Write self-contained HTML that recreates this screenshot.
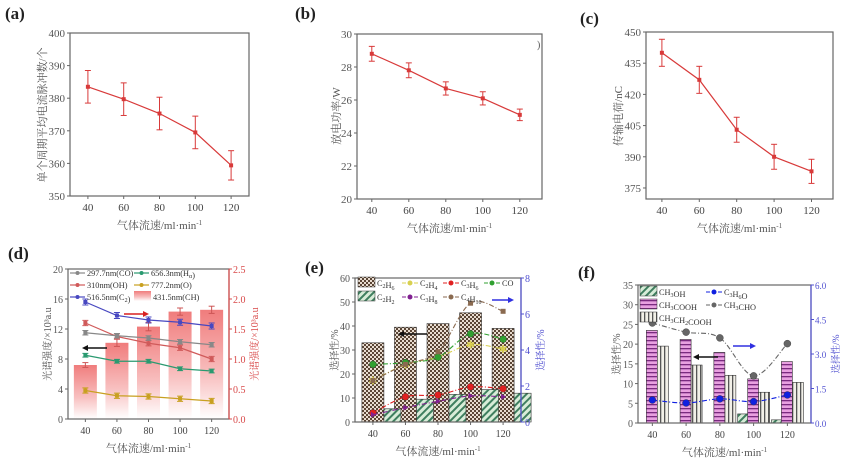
<!DOCTYPE html>
<html><head><meta charset="utf-8">
<style>
html,body{margin:0;padding:0;background:#fff;}
svg{display:block;font-family:"Liberation Serif","Noto Serif CJK SC",serif;}
</style></head>
<body>
<svg id="fig" width="842" height="459" viewBox="0 0 842 459" xmlns="http://www.w3.org/2000/svg">
<defs>
 <pattern id="checker" width="4" height="4" patternUnits="userSpaceOnUse"><rect width="4" height="4" fill="#e8dcd0"/><rect width="2" height="2" fill="#5a4535"/><rect x="2" y="2" width="2" height="2" fill="#5a4535"/></pattern>
 <pattern id="hatchG" width="5" height="5" patternUnits="userSpaceOnUse" patternTransform="rotate(45)"><rect width="5" height="5" fill="#d8ecd8"/><rect width="2" height="5" fill="#3f7f5f"/></pattern>
 <pattern id="stripeP" width="4" height="4" patternUnits="userSpaceOnUse"><rect width="4" height="4" fill="#e8a0e0"/><rect width="4" height="1.3" fill="#7a2a80"/></pattern>
 <pattern id="stripeV" width="4" height="4" patternUnits="userSpaceOnUse"><rect width="4" height="4" fill="#f2f0e8"/><rect width="1.3" height="4" fill="#555"/></pattern>
 <linearGradient id="pinkG" x1="0" y1="0" x2="0" y2="1"><stop offset="0" stop-color="#f07c7c"/><stop offset="0.6" stop-color="#f8c0c0"/><stop offset="1" stop-color="#ffffff"/></linearGradient>
</defs>
</svg>
<script>
const xCats=[40,60,80,100,120];
const aVals=[383.5,379.7,375.3,369.5,359.4];
const aErr=[5,5,5,5,4.5];
const bVals=[28.8,27.8,26.7,26.1,25.1];
const bErr=[0.45,0.45,0.4,0.4,0.35];
const cVals=[440,427,403,390,383];
const cErr=[6.5,6.5,6,6,5.8];
const dCH=[0.9,1.27,1.54,1.79,1.82];
const dCHerr=[0.04,0.06,0.07,0.06,0.06];
const dC2=[15.6,13.8,13.2,12.9,12.4];
const dOH=[12.8,11.0,10.1,9.5,8.0];
const dCO=[11.5,11.1,10.8,10.3,9.9];
const dHa=[8.5,7.7,7.7,6.7,6.4];
const dO=[3.8,3.1,3.0,2.7,2.4];
const eC2H6=[33,39.5,41,45.5,39];
const eC2H2=[5.5,9.5,11.5,13.5,12];
const eC2H4=[2.3,3.2,3.6,4.3,4.05];
const eC3H6=[0.5,1.4,1.5,1.95,1.85];
const eCO=[3.2,3.3,3.6,4.9,4.6];
const eC3H8=[0.4,0.8,1.15,1.45,1.4];
const eC4H10=[2.3,3.2,3.9,6.6,6.15];
const fCH3OH=[0,0,0,2.3,0.8];
const fCH3COOH=[23.5,21.2,17.9,11.2,15.6];
const fPropAcid=[19.5,14.7,12.1,7.8,10.3];
const fC3H6O=[1.0,0.87,1.05,0.93,1.22];
const fCH3CHO=[4.35,3.95,3.7,2.05,3.45];
const aTicks=[350,360,370,380,390,400];
const bTicks=[20,22,24,26,28,30];
const cTicks=[375,390,405,420,435,450];
const dTicks=[0,4,8,12,16,20];
const dTicks2=[0,0.5,1.0,1.5,2.0,2.5];
const eTicks=[0,10,20,30,40,50,60];
const eTicks2=[0,2,4,6,8];
const fTicks=[0,5,10,15,20,25,30,35];
const fTicks2=[0,1.5,3.0,4.5,6.0];

const NS="http://www.w3.org/2000/svg";
const svg=document.getElementById('fig');
function el(tag,attrs,parent,text){const e=document.createElementNS(NS,tag);for(const k in attrs)e.setAttribute(k,attrs[k]);if(text!==undefined)e.textContent=text;(parent||svg).appendChild(e);return e;}
function sx(p,v){return p.l+(v-p.x0)/(p.x1-p.x0)*(p.r-p.l);}
function sy(p,v){return p.b-(v-p.y0)/(p.y1-p.y0)*(p.b-p.t);}
function sy2(p,v){return p.b-(v-p.z0)/(p.z1-p.z0)*(p.b-p.t);}
function fmt(v,d){return d?v.toFixed(d):String(v);}
function frame(p,name,ticks,dec,ticks2,dec2,col2){
 const g=el('g',{});
 
 
 const fr=el('rect',{x:p.l,y:p.t,width:p.r-p.l,height:p.b-p.t,fill:'none',stroke:'#666','stroke-width':1.2},g);
 
 
 ticks.forEach(v=>{const y=sy(p,v);el('line',{x1:p.l-3,x2:p.l,y1:y,y2:y,stroke:'#666'},g);
  const t=el('text',{x:p.l-5,y:y+4,'text-anchor':'end','font-size':p.fs||11,fill:'#555'},g,fmt(v,dec));
  
  });
 if(ticks2){ticks2.forEach(v=>{const y=sy2(p,v);el('line',{x1:p.r,x2:p.r+3,y1:y,y2:y,stroke:col2},g);
  const t=el('text',{x:p.r+4,y:y+4,'text-anchor':'start','font-size':p.fs2||p.fs||11,fill:col2},g,fmt(v,dec2));
  
  });
  el('line',{x1:p.r,x2:p.r,y1:p.t,y2:p.b,stroke:col2,'stroke-width':1.2},g);}
 xCats.forEach(v=>{const x=sx(p,v);el('line',{x1:x,x2:x,y1:p.b,y2:p.b+3,stroke:'#666'},g);
  const t=el('text',{x:x,y:p.b+15,'text-anchor':'middle','font-size':p.fs||11,fill:'#444'},g,String(v));
  
  });
 const xt=el('text',{x:(p.l+p.r)/2,y:p.b+33,'text-anchor':'middle','font-size':11,fill:'#555'},g,'气体流速/ml·min');
 el('tspan',{dy:-4,'font-size':7},xt,'-1');
 
 
 return g;
}
function ytitle(x,y,txt,col,name,fs){const t=el('text',{x:x,y:y,'text-anchor':'middle','font-size':fs||11,fill:col,transform:`rotate(-90 ${x} ${y})`},svg,txt);
 
 return t;}
function plabel(x,y,txt){const t=el('text',{x:x,y:y,'font-size':17,'font-weight':'bold',fill:'#222'},svg,txt);
 
 }
function errLine(p,vals,errs,name,col){
 const g=el('g',{});
 
 
 const pts=xCats.map((c,i)=>[sx(p,c),sy(p,vals[i])]);
 el('polyline',{points:pts.map(q=>q.join(',')).join(' '),fill:'none',stroke:col,'stroke-width':1.2},g);
 xCats.forEach((c,i)=>{const x=sx(p,c),y1=sy(p,vals[i]+errs[i]),y2=sy(p,vals[i]-errs[i]);
  el('line',{x1:x,x2:x,y1:y1,y2:y2,stroke:col},g);
  el('line',{x1:x-3,x2:x+3,y1:y1,y2:y1,stroke:col},g);
  el('line',{x1:x-3,x2:x+3,y1:y2,y2:y2,stroke:col},g);
  const m=el('rect',{x:x-2,y:sy(p,vals[i])-2,width:4,height:4,fill:col},g);
  
  });
}
function smoothPath(pts){let d=`M${pts[0][0]},${pts[0][1]}`;
 for(let i=0;i<pts.length-1;i++){const p0=pts[i-1]||pts[i],p1=pts[i],p2=pts[i+1],p3=pts[i+2]||p2;
  d+=` C${p1[0]+(p2[0]-p0[0])/6},${p1[1]+(p2[1]-p0[1])/6} ${p2[0]-(p3[0]-p1[0])/6},${p2[1]-(p3[1]-p1[1])/6} ${p2[0]},${p2[1]}`;}
 return d;}
function curve(p,vals,col,name,marker,right,smooth){
 const g=el('g',{});
 
 
 const pts=xCats.map((c,i)=>[sx(p,c),right?sy2(p,vals[i]):sy(p,vals[i])]);
 const d=smooth?smoothPath(pts):'M'+pts.map(q=>q.join(',')).join(' L');
 el('path',{d:d,fill:'none',stroke:col,'stroke-width':1.1,'stroke-dasharray':smooth?'5,2,1,2':''},g);
 pts.forEach(q=>{let m;
  if(marker==='tri')m=el('path',{d:`M${q[0]},${q[1]-3} L${q[0]+3},${q[1]+2} L${q[0]-3},${q[1]+2}Z`,fill:col},g);
  else if(marker==='rtri')m=el('path',{d:`M${q[0]+3},${q[1]} L${q[0]-2},${q[1]-3} L${q[0]-2},${q[1]+3}Z`,fill:col},g);
  else if(marker==='sq')m=el('rect',{x:q[0]-2.5,y:q[1]-2.5,width:5,height:5,fill:col},g);
  else if(marker==='star')m=el('text',{x:q[0],y:q[1]+4,'text-anchor':'middle','font-size':11,fill:col},g,'✱');
  else m=el('circle',{cx:q[0],cy:q[1],r:marker==='big'?3.5:2.8,fill:col,stroke:'#333','stroke-width':0.4},g);
  
  });
}
function bars(p,vals,x0off,w,fill,name,right,errs){
 const g=el('g',{});
 
 
 xCats.forEach((c,i)=>{const x=sx(p,c)+x0off;const y=right?sy2(p,vals[i]):sy(p,vals[i]);
  if(vals[i]<=0)return;
  const b=el('rect',{x:x,y:y,width:w,height:p.b-y,fill:fill,stroke:right===2?'none':'#333','stroke-width':0.6},g);
  
  
  if(errs){const cx=x+w/2,y1=sy2(p,vals[i]+errs[i]),y2=sy2(p,vals[i]-errs[i]);
   el('line',{x1:cx,x2:cx,y1:y1,y2:y2,stroke:'#c55'},g);el('line',{x1:cx-3,x2:cx+3,y1:y1,y2:y1,stroke:'#c55'},g);el('line',{x1:cx-3,x2:cx+3,y1:y2,y2:y2,stroke:'#c55'},g);}
 });}
function arrow(x1,x2,y,col,name){const g=el('g',{});
 
 
 el('line',{x1:x1,x2:x2,y1:y,y2:y,stroke:col,'stroke-width':1.5},g);
 const dir=x2>x1?1:-1;
 el('path',{d:`M${x2+dir*4},${y} L${x2-dir*2},${y-3} L${x2-dir*2},${y+3}Z`,fill:col},g);}
function legendItem(x,y,type,col,label){const g=el('g',{});
 
 
 let off=19;
 if(type==='line'){el('line',{x1:x,x2:x+15,y1:y-3,y2:y-3,stroke:col,'stroke-width':1.2},g);el('circle',{cx:x+7.5,cy:y-3,r:2,fill:col},g);off=17;}
 else if(type==='dash'){el('line',{x1:x,x2:x+16,y1:y-3,y2:y-3,stroke:col,'stroke-width':1.1,'stroke-dasharray':'4,2'},g);el('circle',{cx:x+8,cy:y-3,r:2.5,fill:col},g);off=18;}
 else el('rect',{x:x,y:y-9,width:17,height:10,fill:type,stroke:type==='url(#pinkG)'?'none':'#333','stroke-width':0.5},g);
 const t=el('text',{x:x+off,y:y,'font-size':8.3,fill:'#333'},g);
 label.forEach(s=>{if(s[1]){el('tspan',{dy:2,'font-size':6},t,s[0]);el('tspan',{dy:-2},t,'');}else el('tspan',{},t,s[0]);});
}

// (a)
plabel(5,19,'(a)');
const pa={l:70,r:249,t:33,b:196,x0:30,x1:130,y0:350,y1:400};
frame(pa,'chart-a',aTicks,0);
ytitle(46,115,'单个周期平均电流脉冲数/个','#555','y-axis-title-a',11);
errLine(pa,aVals,aErr,'series-a','#d83a3a');
// (b)
plabel(295,19,'(b)');
const pb={l:357,r:542,t:34,b:199,x0:32,x1:132,y0:20,y1:30};
frame(pb,'chart-b',bTicks,0);
ytitle(340,116,'放电功率/W','#555','y-axis-title-b',11);
errLine(pb,bVals,bErr,'series-b','#d83a3a');
el('text',{x:537,y:48,'font-size':10,fill:'#555'},svg,')');
// (c)
plabel(580,24,'(c)');
const pc={l:646,r:833,t:32,b:199,x0:31.5,x1:131.5,y0:369.7,y1:450};
frame(pc,'chart-c',cTicks,0);
ytitle(622,116,'传输电荷/nC','#555','y-axis-title-c',11);
errLine(pc,cVals,cErr,'series-c','#d83a3a');

// (d)
plabel(8,259,'(d)');
const pd={l:68,r:229,t:269,b:419,x0:29,x1:131,y0:0,y1:20,z0:0,z1:2.5,fs:10};
bars(pd,dCH,-11.5,23,'url(#pinkG)','bars-d-CH',2,dCHerr);
frame(pd,'chart-d',dTicks,0,dTicks2,1,'#d84848');
ytitle(51,344,'光谱强度/×10³a.u','#555','y-axis-title-d',10);
ytitle(258,344,'光谱强度/×10³a.u','#d84848','y2-axis-title-d',10);
errLine(pd,dC2,dC2.map(()=>0.4),'series-d-C2','#4848c0');
errLine(pd,dOH,dOH.map(()=>0.35),'series-d-OH','#d05a5a');
errLine(pd,dCO,dCO.map(()=>0.3),'series-d-CO','#888');
errLine(pd,dHa,dHa.map(()=>0.25),'series-d-Ha','#2a9a70');
errLine(pd,dO,dO.map(()=>0.35),'series-d-O','#c8a020');
legendItem(70,276,'line','#888',[['297.7nm(CO)']]);
legendItem(134,276,'line','#2a9a70',[['656.3nm(H'],['α',1],[')']]);
legendItem(70,288,'line','#d05a5a',[['310nm(OH)']]);
legendItem(134,288,'line','#c8a020',[['777.2nm(O)']]);
legendItem(70,300,'line','#4848c0',[['516.5nm(C'],['2',1],[')']]);
legendItem(134,300,'url(#pinkG)','',[['431.5nm(CH)']]);
arrow(124,145,314,'#d82020','arrow-right-d');
arrow(107,86,348,'#111','arrow-left-d');

// (e)
plabel(305,273,'(e)');
const pe={l:355,r:521,t:278,b:422,x0:29,x1:131,y0:0,y1:60,z0:0,z1:8,fs:10};
bars(pe,eC2H6,-11,22,'url(#checker)','bars-e-C2H6');
bars(pe,eC2H2,11,17,'url(#hatchG)','bars-e-C2H2');
frame(pe,'chart-e',eTicks,0,eTicks2,0,'#5050d0');
ytitle(338,350,'选择性/%','#555','y-axis-title-e',10);
ytitle(544,350,'选择性/%','#5050d0','y2-axis-title-e',10);
curve(pe,eC2H4,'#d8d050','series-e-C2H4','star',true,true);
curve(pe,eC3H6,'#e02020','series-e-C3H6','big',true,true);
curve(pe,eCO,'#30a030','series-e-CO','big',true,true);
curve(pe,eC3H8,'#802090','series-e-C3H8','rtri',true,true);
curve(pe,eC4H10,'#8a6a50','series-e-C4H10','sq',true,true);
legendItem(358,286,'url(#checker)','',[['C'],['2',1],['H'],['6',1]]);
legendItem(402,286,'dash','#d8d050',[['C'],['2',1],['H'],['4',1]]);
legendItem(443,286,'dash','#e02020',[['C'],['3',1],['H'],['6',1]]);
legendItem(484,286,'dash','#30a030',[['CO']]);
legendItem(358,300,'url(#hatchG)','',[['C'],['2',1],['H'],['2',1]]);
legendItem(402,300,'dash','#802090',[['C'],['3',1],['H'],['8',1]]);
legendItem(443,300,'dash','#8a6a50',[['C'],['4',1],['H'],['10',1]]);
arrow(492,510,300,'#3030e0','arrow-right-e');
arrow(427,402,334,'#111','arrow-left-e');

// (f)
plabel(578,278,'(f)');
const pf={l:638,r:811,t:285,b:423,x0:31.5,x1:134,y0:0,y1:35,z0:0,z1:6,fs:10,fs2:9};
bars(pf,fCH3OH,-16,11,'url(#hatchG)','bars-f-CH3OH');
bars(pf,fCH3COOH,-6,11,'url(#stripeP)','bars-f-CH3COOH');
bars(pf,fPropAcid,5,11,'url(#stripeV)','bars-f-CH3CH2COOH');
frame(pf,'chart-f',fTicks,0,fTicks2,1,'#5050d0');
ytitle(620,354,'选择性/%','#555','y-axis-title-f',10);
ytitle(839,354,'选择性/%','#5050d0','y2-axis-title-f',9.5);
curve(pf,fC3H6O,'#1020e0','series-f-C3H6O','big',true,true);
curve(pf,fCH3CHO,'#666','series-f-CH3CHO','big',true,true);
legendItem(640,295,'url(#hatchG)','',[['CH'],['3',1],['OH']]);
legendItem(706,295,'dash','#1020e0',[['C'],['3',1],['H'],['6',1],['O']]);
legendItem(640,308,'url(#stripeP)','',[['CH'],['3',1],['COOH']]);
legendItem(706,308,'dash','#666',[['CH'],['3',1],['CHO']]);
legendItem(640,321,'url(#stripeV)','',[['CH'],['3',1],['CH'],['2',1],['COOH']]);
arrow(733,752,346,'#3030e0','arrow-right-f');
arrow(718,697,357,'#111','arrow-left-f');
</script>
</body></html>
